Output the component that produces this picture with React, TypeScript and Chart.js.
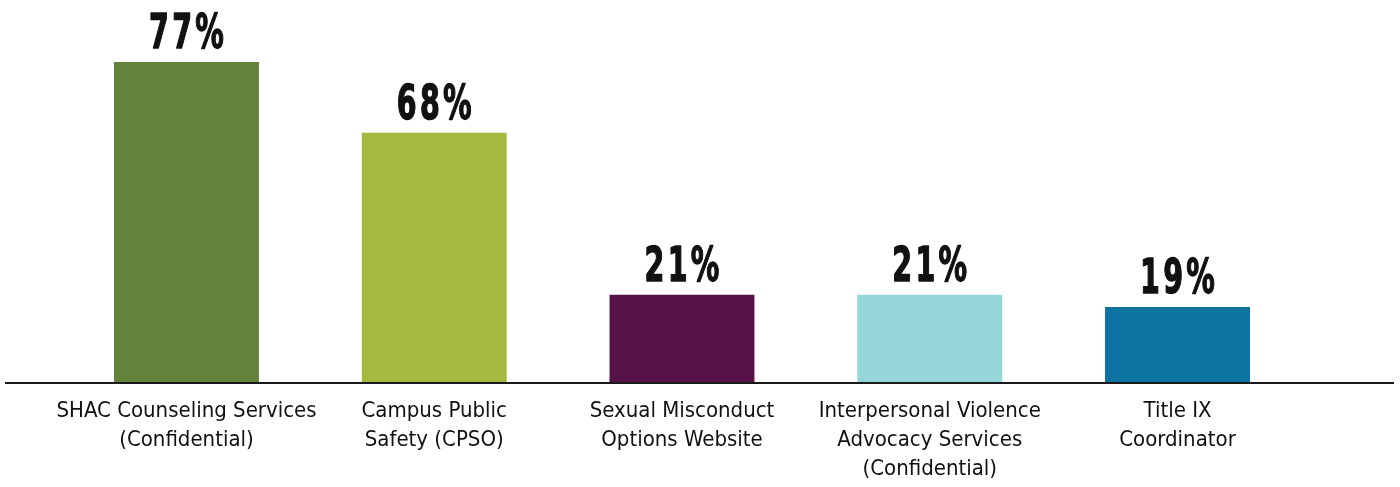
import React, { useEffect, useRef } from "react";
import { Chart, registerables } from "chart.js";

Chart.register(...registerables);

const categories: string[][] = [
  ["SHAC Counseling Services", "(Confidential)"],
  ["Campus Public", "Safety (CPSO)"],
  ["Sexual Misconduct", "Options Website"],
  ["Interpersonal Violence", "Advocacy Services", "(Confidential)"],
  ["Title IX", "Coordinator"],
];

// bar heights
const barValues: number[] = [77, 60, 21, 21, 18];
// value labels printed above the bars
const valueLabels: string[] = ["77%", "68%", "21%", "21%", "19%"];
const barColors: string[] = ["#62843A", "#A4B93D", "#56134A", "#96D5D8", "#0B72A2"];

const FONT = "'DejaVu Sans Condensed', 'Liberation Sans Narrow', 'Roboto', sans-serif";
const TEXT = "#111111";

const valueLabelPlugin = {
  id: "valueLabels",
  afterDatasetsDraw(chart: any) {
    const ctx = chart.ctx;
    const meta = chart.getDatasetMeta(0);
    const sx = 0.66;
    meta.data.forEach((bar: any, i: number) => {
      ctx.save();
      ctx.fillStyle = TEXT;
      ctx.strokeStyle = TEXT;
      ctx.lineWidth = 1.4;
      ctx.lineJoin = "round";
      ctx.font = `bold 48px ${FONT}`;
      ctx.textAlign = "center";
      ctx.textBaseline = "alphabetic";
      (ctx as any).letterSpacing = "5px";
      ctx.translate(bar.x + 1.6, bar.y - 14);
      ctx.scale(sx, 1);
      ctx.fillText(valueLabels[i], 0, 0);
      ctx.strokeText(valueLabels[i], 0, 0);
      ctx.restore();
    });
  },
};

const baselinePlugin = {
  id: "baseline",
  afterDraw(chart: any) {
    const ctx = chart.ctx;
    const y = chart.chartArea.bottom + 1;
    ctx.save();
    ctx.strokeStyle = "#1a1a1a";
    ctx.lineWidth = 2;
    ctx.beginPath();
    ctx.moveTo(5, y);
    ctx.lineTo(chart.width - 6, y);
    ctx.stroke();
    ctx.restore();
  },
};

export default function App() {
  const ref = useRef<HTMLCanvasElement>(null);
  useEffect(() => {
    if (!ref.current) return;
    const chart = new Chart(ref.current, {
      type: "bar",
      data: {
        labels: categories,
        datasets: [
          {
            data: barValues,
            backgroundColor: barColors,
            borderWidth: 0,
            categoryPercentage: 1,
            barPercentage: 0.585,
          },
        ],
      },
      options: {
        animation: false,
        responsive: false,
        layout: { padding: { left: 62.6, right: 98.6, top: 8, bottom: -12 } },
        plugins: {
          legend: { display: false },
          tooltip: { enabled: false },
          title: { display: false },
        },
        scales: {
          x: {
            grid: { display: false, drawTicks: false },
            border: { display: false },
            ticks: {
              color: TEXT,
              font: { family: FONT, size: 22, lineHeight: 1.32 },
              padding: 15,
              maxRotation: 0,
              autoSkip: false,
            },
          },
          y: {
            display: false,
            min: 0,
            max: 90,
          },
        },
      },
      plugins: [valueLabelPlugin, baselinePlugin],
    });
    return () => chart.destroy();
  }, []);
  return (
    <div style={{ position: "absolute", left: 0, top: 0, width: 1400, height: 487, background: "#fff" }}>
      <canvas ref={ref} width={1400} height={487} style={{ display: "block" }} />
    </div>
  );
}
